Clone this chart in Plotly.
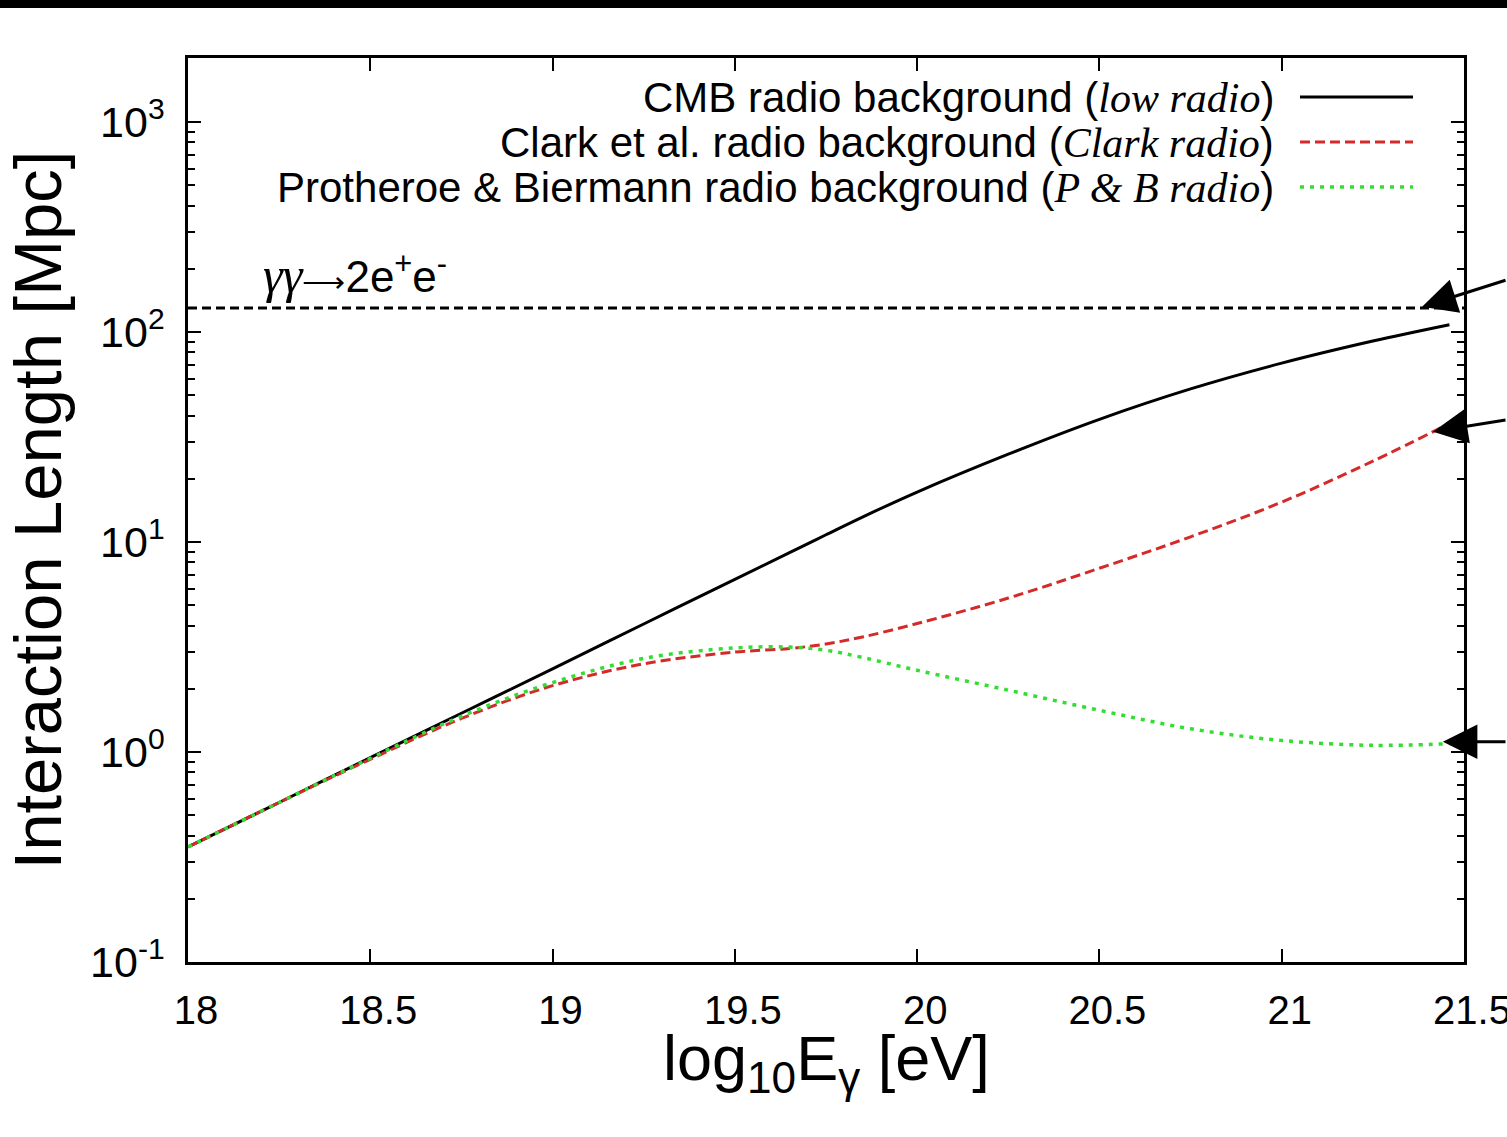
import math
import plotly.graph_objects as go

# ---------------- data ----------------
log10_E = [18.0, 18.25, 18.5, 18.75, 19.0, 19.25, 19.5, 19.65, 19.75, 19.85,
           20.0, 20.25, 20.5, 20.75, 21.0, 21.25, 21.46]

cmb_low_radio = [0.353, 0.575, 0.94, 1.53, 2.49, 4.07, 6.64, 8.9, 10.83, 13.15,
                 17.3, 26.2, 38.4, 53.6, 71.1, 90.6, 108.4]
clark_radio = [0.353, 0.575, 0.923, 1.445, 2.07, 2.63, 2.99, 3.11, 3.27, 3.53,
               4.09, 5.41, 7.50, 10.59, 15.49, 24.27, 36.7]
pb_radio = [0.353, 0.575, 0.933, 1.48, 2.14, 2.79, 3.13, 3.16, 3.05, 2.82,
            2.45, 1.97, 1.58, 1.29, 1.135, 1.076, 1.096]

pair_production_x = [18.0, 21.5]
pair_production_length = [130, 130]

y_tickvals = [0.1, 1, 10, 100, 1000]
y_ticktext = ["10<sup>-1</sup>", "10<sup>0</sup>", "10<sup>1</sup>",
              "10<sup>2</sup>", "10<sup>3</sup>"]
x_tickvals = [18, 18.5, 19, 19.5, 20, 20.5, 21, 21.5]
x_ticktext = ["18", "18.5", "19", "19.5", "20", "20.5", "21", "21.5"]

legend_labels = [
    "CMB radio background (<span style='font-family:Liberation Serif'><i>low radio</i></span>)",
    "Clark et al. radio background (<span style='font-family:Liberation Serif'><i>Clark radio</i></span>)",
    "Protheroe &amp; Biermann radio background (<span style='font-family:Liberation Serif'><i>P &amp; B radio</i></span>)",
]

# arrow tips (log10 E, length in Mpc) and tail offsets in pixels
arrow_tips_E = [21.385, 21.415, 21.442]
arrow_tips_L = [132.0, 33.5, 1.12]
arrow_tail_dx = [92, 80, 70]
arrow_tail_dy = [-27, -12, 0]

# ---------------- styles ----------------
BLACK = "#000000"
RED = "#d42a2a"
GREEN = "#33dd33"
FONT = "Liberation Sans"

W, H = 1507, 1137
L_M, R_M, T_M, B_M = 188, 43, 58, 175
PW, PH = W - L_M - R_M, H - T_M - B_M


def px2paper_x(px):
    return (px - L_M) / PW


def px2paper_y(py):
    return (H - B_M - py) / PH


fig = go.Figure()

fig.add_trace(go.Scatter(x=pair_production_x, y=pair_production_length, mode="lines",
                         line=dict(color=BLACK, width=3, dash="9px,5px"),
                         showlegend=False, hoverinfo="skip"))
fig.add_trace(go.Scatter(x=log10_E, y=cmb_low_radio, mode="lines", line_shape="spline",
                         line=dict(color=BLACK, width=3), showlegend=False))
fig.add_trace(go.Scatter(x=log10_E, y=clark_radio, mode="lines", line_shape="spline",
                         line=dict(color=RED, width=3, dash="10px,5px"), showlegend=False))
fig.add_trace(go.Scatter(x=log10_E, y=pb_radio, mode="lines", line_shape="spline",
                         line=dict(color=GREEN, width=3.5, dash="4px,6px"), showlegend=False))

shapes = []
annotations = []

# custom legend (text right-aligned, sample on the right)
legend_styles = [dict(color=BLACK, width=3, dash="solid"),
                 dict(color=RED, width=3, dash="10px,5px"),
                 dict(color=GREEN, width=3.5, dash="4px,6px")]
row_y = [97, 142, 187]
for lab, sty, ry in zip(legend_labels, legend_styles, row_y):
    annotations.append(dict(text=lab, xref="paper", yref="paper",
                            x=px2paper_x(1276), y=px2paper_y(ry),
                            xanchor="right", yanchor="middle", showarrow=False,
                            font=dict(family=FONT, size=42, color=BLACK)))
    shapes.append(dict(type="line", xref="paper", yref="paper",
                       x0=px2paper_x(1300), x1=px2paper_x(1413),
                       y0=px2paper_y(ry), y1=px2paper_y(ry), line=sty))

# reaction label
annotations.append(dict(
    text="<span style='font-family:Liberation Serif;font-size:50px'><i>γγ</i></span>"
         "<span style='font-size:30px'>⟶</span>2e<sup>+</sup>e<sup>-</sup>",
    xref="paper", yref="paper", x=px2paper_x(261), y=px2paper_y(274),
    xanchor="left", yanchor="middle", showarrow=False,
    font=dict(family=FONT, size=44, color=BLACK)))

# x-axis title as annotation (placed closer to the tick labels)
annotations.append(dict(
    text="log<sub>10</sub>E<sub>γ</sub> [eV]", xref="paper", yref="paper",
    x=0.5, y=px2paper_y(1062), xanchor="center", yanchor="middle", showarrow=False,
    font=dict(family=FONT, size=63, color=BLACK)))

# arrows on the right
for ex, ly, dx, dy in zip(arrow_tips_E, arrow_tips_L, arrow_tail_dx, arrow_tail_dy):
    annotations.append(dict(x=ex, y=math.log10(ly), xref="x", yref="y", ax=dx, ay=dy,
                            axref="pixel", ayref="pixel", text="", showarrow=True,
                            arrowhead=2, arrowsize=2.3, arrowwidth=3,
                            arrowcolor=BLACK, standoff=0))

# black bar at the top of the page
shapes.append(dict(type="rect", xref="paper", yref="paper",
                   x0=px2paper_x(0), x1=px2paper_x(W), y0=px2paper_y(8), y1=px2paper_y(0),
                   fillcolor=BLACK, line=dict(width=0), layer="above"))

fig.update_layout(
    width=W, height=H,
    margin=dict(l=L_M, r=R_M, t=T_M, b=B_M, autoexpand=False),
    paper_bgcolor="white", plot_bgcolor="white",
    font=dict(family=FONT, color=BLACK),
    shapes=shapes, annotations=annotations,
    xaxis=dict(range=[18, 21.5], tickvals=x_tickvals, ticktext=x_ticktext,
               ticks="inside", ticklen=13, tickwidth=2, tickcolor=BLACK,
               showline=True, linecolor=BLACK, linewidth=2.5, mirror="ticks",
               showgrid=False, zeroline=False, automargin=False,
               tickfont=dict(family=FONT, size=40, color=BLACK),
               ticklabelstandoff=11, ticklabelshift=8, ticklabeloverflow="allow"),
    yaxis=dict(type="log", range=[-1, 3.305], tickvals=y_tickvals, ticktext=y_ticktext,
               ticks="inside", ticklen=13, tickwidth=2, tickcolor=BLACK,
               showline=True, linecolor=BLACK, linewidth=2.5, mirror="ticks",
               showgrid=False, zeroline=False, automargin=False,
               minor=dict(ticks="inside", ticklen=7, tickwidth=2, tickcolor=BLACK,
                          dtick="D1", showgrid=False),
               tickfont=dict(family=FONT, size=43, color=BLACK), ticklabelstandoff=12,
               title=dict(text="Interaction Length [Mpc]",
                          font=dict(family=FONT, size=67, color=BLACK), standoff=7)),
)

fig.write_html("out.html")
